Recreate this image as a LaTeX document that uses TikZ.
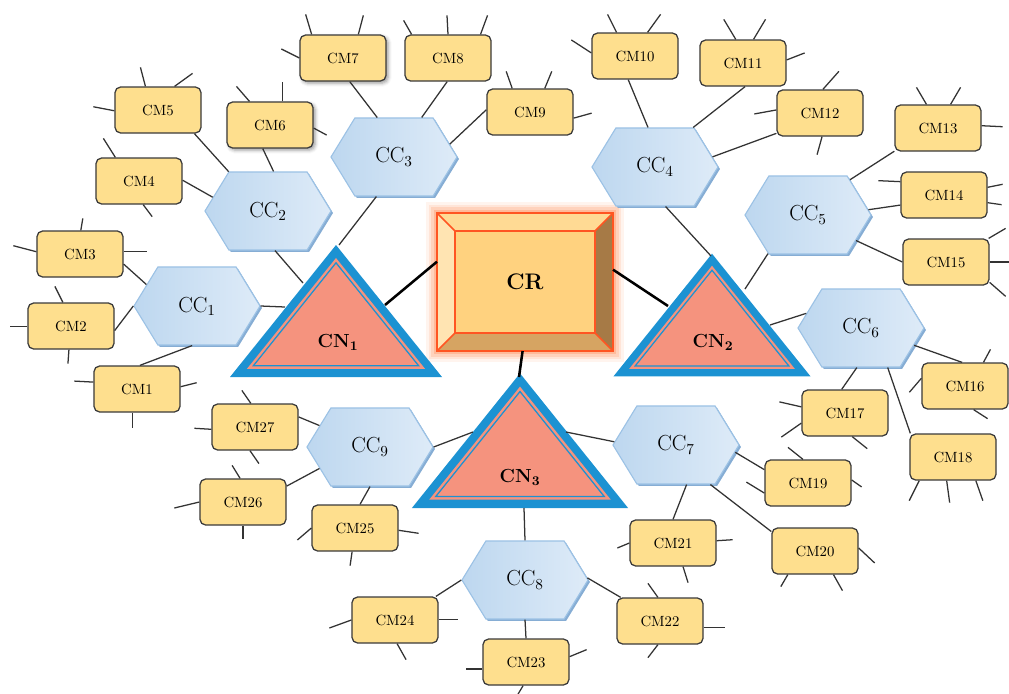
\documentclass[tikz,border=0pt]{standalone}
\usepackage{fontspec}
\usepackage{tikz}
\usetikzlibrary{positioning,calc,shapes.symbols,shadows,shadows.blur}

\definecolor{cmfill}{HTML}{FEDF8E}
\definecolor{cmline}{HTML}{3A3A3A}
\definecolor{ccleft}{HTML}{BDD7EF}
\definecolor{ccright}{HTML}{DEEBF8}
\definecolor{ccline}{HTML}{9CC2E5}
\definecolor{ccshadow}{HTML}{86ADD4}
\definecolor{cnblue}{HTML}{1C92D2}
\definecolor{cnsalmon}{HTML}{F5937E}
\definecolor{crline}{HTML}{FF5522}
\definecolor{crglow}{HTML}{FF8F5A}
\definecolor{crface}{HTML}{FFD27F}
\definecolor{crtop}{HTML}{FFDA94}
\definecolor{crleft}{HTML}{FFE4B2}
\definecolor{crright}{HTML}{A67A46}
\definecolor{crbottom}{HTML}{D6A462}
\definecolor{linkgray}{HTML}{333333}

\begin{document}
\begin{tikzpicture}[x=0.025cm,y=-0.025cm,
    cmbox/.style={draw=cmline, fill=cmfill, rounded corners=4pt, line width=0.9pt,
      minimum width=2.15cm, minimum height=1.15cm, inner sep=0pt,
      font=\fontsize{10.5}{12}\selectfont},
    ccbox/.style={signal, signal to=west and east, signal pointer angle=117,
      minimum width=3.15cm, minimum height=1.95cm, inner sep=0pt,
      draw=ccline, line width=0.8pt, left color=ccleft, right color=ccright,
      general shadow={fill=ccshadow, shadow xshift=1.4pt, shadow yshift=-1.4pt},
      font=\fontsize{15.5}{17}\selectfont},
    cnlabel/.style={font=\bfseries\fontsize{13.5}{15}\selectfont},
    link/.style={draw=linkgray, line width=0.9pt},
    crlink/.style={draw=black, line width=1.8pt}]
  \useasboundingbox (0,0) rectangle (1009,693);

  % central router CR
  \foreach \w/\o in {16/0.10,12/0.15,8/0.22,4/0.35}
    \draw[crglow, line width=\w pt, opacity=\o] (437,213) rectangle (613,351);
  \fill[crface] (455,231) rectangle (595,333);
  \fill[crtop] (437,213) -- (613,213) -- (595,231) -- (455,231) -- cycle;
  \fill[crleft] (437,213) -- (455,231) -- (455,333) -- (437,351) -- cycle;
  \fill[crright] (613,213) -- (613,351) -- (595,333) -- (595,231) -- cycle;
  \fill[crbottom] (437,351) -- (613,351) -- (595,333) -- (455,333) -- cycle;
  \draw[crline, line width=1.1pt] (437,213) rectangle (613,351) (455,231) rectangle (595,333)
    (437,213) -- (455,231) (613,213) -- (595,231) (437,351) -- (455,333) (613,351) -- (595,333);
  \node[font=\bfseries\fontsize{16}{18}\selectfont, minimum width=4.4cm, minimum height=3.45cm,
    inner sep=0pt, outer sep=0pt] (cr) at (525,282) {CR};

  % CN triangles
  \foreach \cx/\cy/\s in {336/326/1, 712/329/0.93, 520/456/1.02}
  {
    \begin{scope}[shift={(\cx,\cy)}, scale=\s]
      \fill[cnblue] (0,-81) -- (106,51) -- (-106,51) -- cycle;
      \fill[cnsalmon, scale=0.84] (0,-81) -- (106,51) -- (-106,51) -- cycle;
      \filldraw[draw=cnblue, fill=cnsalmon, line width=0.9pt, scale=0.78] (0,-81) -- (106,51) -- (-106,51) -- cycle;
    \end{scope}
  }
  \node[cnlabel] (cn1) at (338,342) {CN\textsubscript{1}};
  \node[cnlabel] (cn2) at (713,342) {CN\textsubscript{2}};
  \node[cnlabel] (cn3) at (520,477) {CN\textsubscript{3}};

  \coordinate (cn1e) at (385,305);
  \coordinate (cn1w) at (285,307);
  \coordinate (cn1nw) at (303,283);
  \coordinate (cn1n) at (339,245);
  \coordinate (cn2w) at (668,306);
  \coordinate (cn2n) at (711,256);
  \coordinate (cn2ne) at (745,289);
  \coordinate (cn2e) at (770,325);
  \coordinate (cn3n) at (519,377);
  \coordinate (cn3w) at (473,432);
  \coordinate (cn3e) at (566,432);
  \coordinate (cn3s) at (524,508);

  \draw[crlink] (cn1e) -- (cr.167);
  \draw[crlink] (cn2w) -- (cr.8);
  \draw[crlink] (cn3n) -- (cr.268);

  % CC hexagons
  \foreach \n/\x/\y in {1/197/306, 2/268/211, 3/394/157, 4/655/167, 5/808/215,
                        6/861/328, 7/676/445, 8/525/580, 9/370/447}
    \node[ccbox] (cc\n) at (\x,\y) {CC\textsubscript{\n}};

  % CM boxes
  \foreach \n/\x/\y in {1/137/389, 2/71/326, 3/80/254, 4/139/181, 5/158/110,
                        8/448/58, 9/530/112, 10/635/56, 11/743/63, 12/820/113,
                        13/938/128, 14/944/195, 15/946/262, 16/965/386, 17/845/413,
                        18/953/457, 19/808/483, 20/815/551, 21/673/543, 22/660/621,
                        23/526/662, 24/395/620, 25/355/528, 26/243/502, 27/255/427}
    \node[cmbox] (cm\n) at (\x,\y) {CM\n};
  \node[cmbox, blur shadow={shadow xshift=1.5pt, shadow yshift=-1.5pt, shadow blur radius=2.5pt}] (cm6) at (270,125) {CM6};
  \node[cmbox, blur shadow={shadow xshift=1.5pt, shadow yshift=-1.5pt, shadow blur radius=2.5pt}] (cm7) at (343,58) {CM7};

  % CC to CN
  \draw[link] (cc1.0) -- (cn1w);
  \draw[link] (cc2.280) -- (cn1nw);
  \draw[link] (cc3.246) -- (cn1n);
  \draw[link] (cc4.285) -- (cn2n);
  \draw[link] (cc5.224) -- (cn2ne);
  \draw[link] (cc6.165) -- (cn2e);
  \draw[link] (cc7.177) -- (cn3e);
  \draw[link] (cc8.90) -- (cn3s);
  \draw[link] (cc9.0) -- (cn3w);

  % CM to CC
  \foreach \a/\aa/\b/\bb in {1/83/1/263, 2/354/1/180, 3/347/1/157, 4/1/2/166, 5/327/2/135,
      6/253/2/82, 7/286/3/113, 8/268/3/55, 9/177/3/13, 10/254/4/100, 11/275/4/46,
      12/205/4/10, 13/208/5/40, 14/193/5/5, 15/180/5/332, 16/97/6/342, 17/98/6/264,
      18/151/6/304, 19/163/7/353, 20/156/7/311, 21/90/7/285, 22/149/8/2, 23/90/8/270,
      24/30/8/180, 25/78/9/270, 26/20/9/203, 27/13/9/157}
    \draw[link] (cm\a.\aa) -- (cc\b.\bb);

  % loose ends
  \foreach \b/\ang/\dx/\dy in {1/171/-19/-1, 1/3/16/-4, 1/260/0/15,
      2/109/-8/-16, 2/181/-17/0, 2/265/-1/14,
      3/88/2/-12, 3/177/-23/-6, 3/3/23/0,
      4/135/-12/-19, 4/280/9/12,
      5/118/-5/-19, 5/55/18/-13, 5/181/-21/-4,
      6/131/-13/-15, 6/62/0/-19, 6/356/13/7,
      7/143/-6/-20, 7/57/5/-19, 7/180/-18/-9,
      8/147/-8/-14, 8/90/-1/-19, 8/36/7/-19,
      9/127/-6/-17, 9/58/7/-17, 9/352/18/-5,
      10/128/-9/-18, 10/62/13/-18, 10/176/-20/-13,
      11/107/-12/-20, 11/66/12/-20, 11/4/18/-7,
      12/83/16/-18, 12/176/-22/4, 12/275/-5/18,
      13/116/-10/-17, 13/62/10/-17, 13/3/21/1,
      14/163/-22/-1, 14/10/15/-3, 14/350/14/2,
      15/29/17/-10, 15/0/19/0, 15/335/16/14,
      16/52/7/-13, 16/170/-12/14, 16/290/14/9,
      17/172/-22/-5, 17/193/-20/14, 17/287/15/12,
      18/215/-10/20, 18/255/3/22, 18/314/7/20,
      19/102/-15/-12, 19/193/-18/-11, 19/4/10/7,
      20/4/16/15, 20/221/-7/12, 20/308/9/16,
      21/180/-12/5, 21/3/16/-1, 21/293/5/16,
      22/95/-10/-14, 22/352/21/0, 22/265/-10/13,
      23/189/-16/0, 23/7/17/-7, 23/263/-6/10,
      24/180/-22/8, 24/1/19/0, 24/275/9/16,
      25/180/-14/12, 25/357/20/3, 25/263/-2/14,
      26/97/-8/-13, 26/180/-25/6, 26/270/0/13,
      27/100/-9/-13, 27/183/-17/-1, 27/258/9/13}
    \draw[link] (cm\b.\ang) -- ++(\dx,\dy);
\end{tikzpicture}
\end{document}
